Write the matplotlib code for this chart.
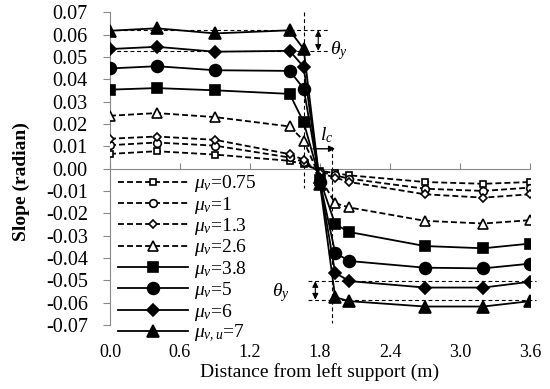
import matplotlib
matplotlib.use('Agg')
import matplotlib.pyplot as plt
import numpy as np

plt.rcParams['font.family'] = ['Liberation Serif', 'DejaVu Serif']
plt.rcParams['mathtext.fontset'] = 'custom'
plt.rcParams['mathtext.rm'] = 'Liberation Serif'
plt.rcParams['mathtext.it'] = 'Liberation Serif:italic'

# distance from left support (m)
x = [0.0, 0.4, 0.9, 1.54, 1.66, 1.8, 1.93, 2.05, 2.7, 3.2, 3.6]

# slope (radian) for each mu_v
s075 = [0.0066, 0.0078, 0.0063, 0.0035, 0.0020, -0.0010, -0.0020, -0.0030, -0.0060, -0.0068, -0.0060]
s1 = [0.0105, 0.0117, 0.0103, 0.0050, 0.0030, -0.0015, -0.0030, -0.0045, -0.0090, -0.0100, -0.0085]
s13 = [0.0134, 0.0144, 0.0129, 0.0065, 0.0040, -0.0020, -0.0040, -0.0060, -0.0115, -0.0130, -0.0115]
s26 = [0.0237, 0.0249, 0.0231, 0.0189, 0.0126, -0.0040, -0.0155, -0.0174, -0.0234, -0.0246, -0.0231]
s38 = [0.0354, 0.0361, 0.0351, 0.0335, 0.0208, -0.0050, -0.0249, -0.0284, -0.0347, -0.0357, -0.0336]
s5 = [0.0449, 0.0459, 0.0441, 0.0438, 0.0359, -0.0060, -0.0377, -0.0414, -0.0444, -0.0447, -0.0426]
s6 = [0.0536, 0.0546, 0.0524, 0.0528, 0.0456, -0.0065, -0.0467, -0.0504, -0.0533, -0.0533, -0.0507]
s7 = [0.0618, 0.0629, 0.0606, 0.0620, 0.0536, -0.0070, -0.0576, -0.0594, -0.0618, -0.0618, -0.0594]

labels = [r'$\mu_v$=0.75', r'$\mu_v$=1', r'$\mu_v$=1.3', r'$\mu_v$=2.6',
          r'$\mu_v$=3.8', r'$\mu_v$=5', r'$\mu_v$=6', r'$\mu_{v,u}$=7']

# reference levels for theta_y and the l_c mark
ty_top = [0.0621, 0.0528]
ty_bot = [-0.0504, -0.0587]
x_v1 = 1.665
x_v2 = 1.905
y_lc = 0.0089

xticks = [0.0, 0.6, 1.2, 1.8, 2.4, 3.0, 3.6]
yticks = np.round(np.arange(-0.07, 0.0701, 0.01), 2)

fig = plt.figure(figsize=(5.5, 3.89), dpi=100)
ax = fig.add_axes([0.2, 0.165, 0.7636, 0.803])

dash = (0, (3.3, 1.7))
ref = (0, (3.5, 2.5))
fs = 13

series = [
    (s075, 's', 5.0, 'white', dash),
    (s1, 'o', 5.5, 'white', dash),
    (s13, 'D', 4.5, 'white', dash),
    (s26, '^', 6.5, 'white', dash),
    (s38, 's', 7.0, 'black', '-'),
    (s5, 'o', 8.5, 'black', '-'),
    (s6, 'D', 6.0, 'black', '-'),
    (s7, '^', 8.5, 'black', '-'),
]

# theta_y reference lines (under the data)
for lv in ty_top:
    ax.plot([0.0, 1.88], [lv, lv], color='black', lw=0.8, ls=ref, zorder=1)
for lv in ty_bot:
    ax.plot([1.7, 3.65], [lv, lv], color='black', lw=0.8, ls=ref, zorder=1, clip_on=False)
ax.plot([x_v1, x_v1], [0.07, -0.0085], color='black', lw=0.8, ls=ref, zorder=1)
ax.plot([x_v2, x_v2], [0.0096, -0.069], color='black', lw=0.8, ls=ref, zorder=1)

for (s, m, ms, fc, ls), lab in zip(series, labels):
    ax.plot(x, s, color='black', lw=1.3, ls=ls, marker=m, markersize=ms,
            markerfacecolor=fc, markeredgecolor='black', markeredgewidth=1.2,
            label=lab, zorder=3)

# double arrows and labels
ax.annotate('', xy=(1.785, ty_top[1]), xytext=(1.785, ty_top[0]),
            arrowprops=dict(arrowstyle='<|-|>', color='black', lw=0.8,
                            mutation_scale=9, shrinkA=0, shrinkB=0))
ax.annotate('', xy=(1.76, ty_bot[1]), xytext=(1.76, ty_bot[0]),
            arrowprops=dict(arrowstyle='<|-|>', color='black', lw=0.8,
                            mutation_scale=9, shrinkA=0, shrinkB=0))
ax.text(1.89, 0.053, r'$\theta_y$', fontsize=fs + 1, va='center', ha='left')
ax.text(1.54, -0.0554, r'$\theta_y$', fontsize=fs + 1, va='center', ha='right')
ax.annotate('', xy=(1.93, y_lc), xytext=(1.74, y_lc),
            arrowprops=dict(arrowstyle='-|>', color='black', lw=1.0,
                            mutation_scale=9, shrinkA=0, shrinkB=0))
ax.text(1.855, 0.015, r'$l_c$', fontsize=fs + 1, va='center', ha='center')

ax.set_xlim(0, 3.6)
ax.set_ylim(-0.07, 0.07)

gray = '#888888'
for side in ['top', 'right']:
    ax.spines[side].set_visible(False)
ax.spines['left'].set_color(gray)
ax.spines['bottom'].set_color(gray)
ax.spines['bottom'].set_position(('data', 0))

ax.set_yticks(yticks)
ax.set_yticklabels(['%.2f' % v for v in yticks])
ax.tick_params(axis='y', direction='out', length=5, color=gray, labelsize=14.5, pad=11)
ax.set_xticks(xticks)
ax.tick_params(axis='x', direction='in', length=4, color=gray, labelbottom=False)

sec = ax.secondary_xaxis('bottom')
sec.set_xticks(xticks)
sec.set_xticklabels(['%.1f' % v for v in xticks])
sec.tick_params(length=0, labelsize=fs, pad=14)
sec.spines['bottom'].set_visible(False)
sec.set_xlabel('Distance from left support (m)', fontsize=fs + 1, labelpad=1)

ax.set_ylabel('Slope (radian)', fontsize=fs + 1, fontweight='bold')
ax.yaxis.set_label_coords(-0.19, 0.46)

ax.legend(loc='upper left', bbox_to_anchor=(0.02, 0.485), frameon=False,
          fontsize=14, handlelength=3.6, handletextpad=0.3, labelspacing=0.02,
          numpoints=1, borderpad=0, borderaxespad=0)

fig.savefig('out.png', dpi=100)
